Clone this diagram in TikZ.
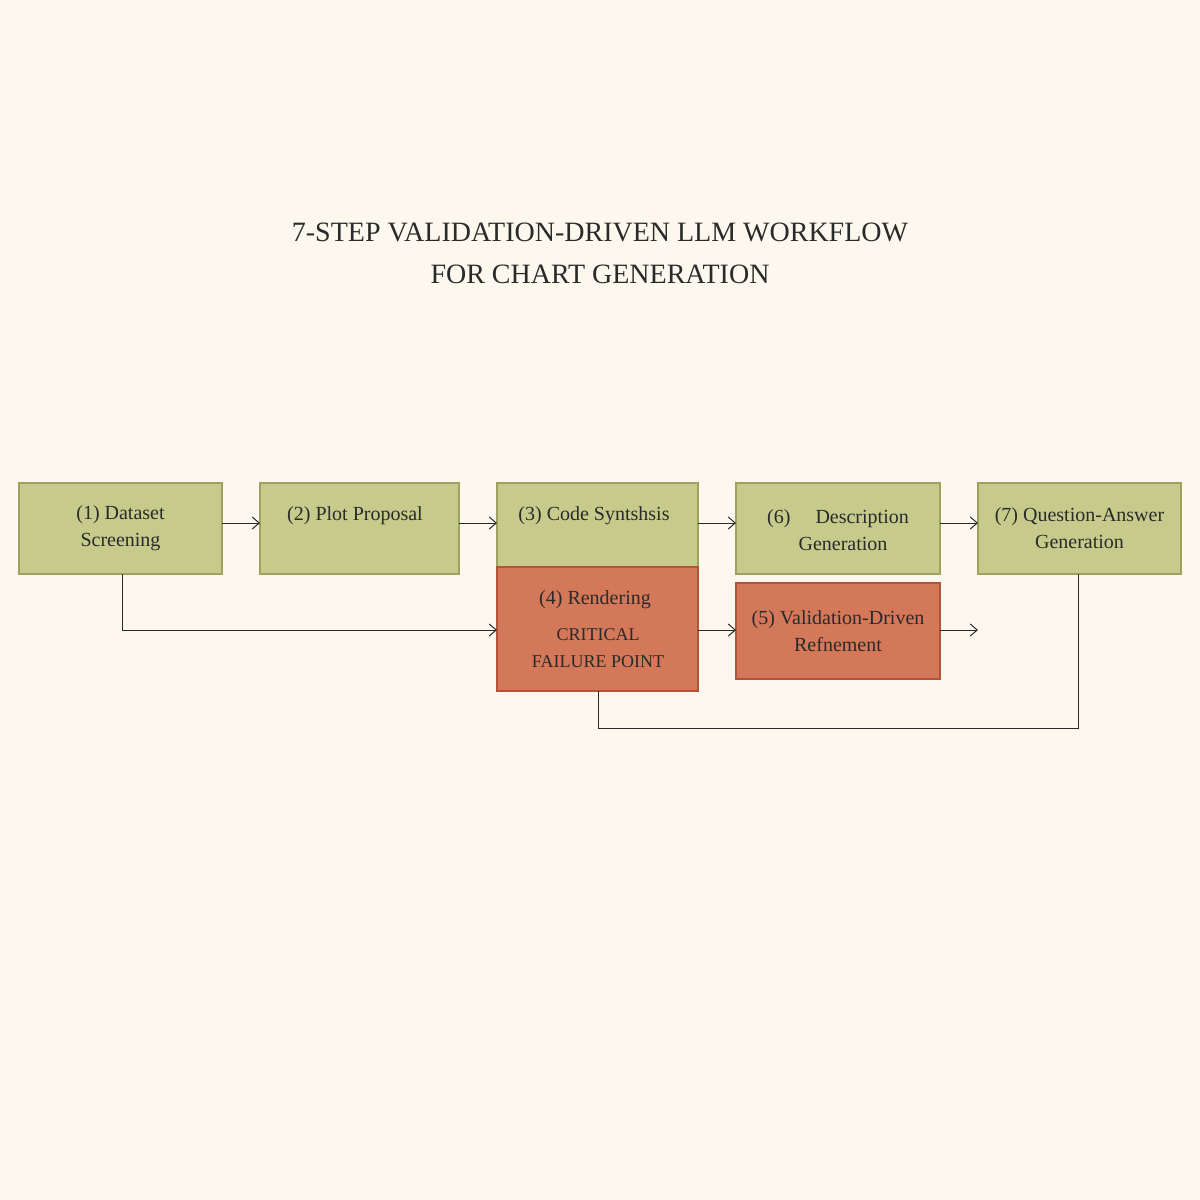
\documentclass[tikz,border=0pt]{standalone}
\usepackage{fontspec}
\setmainfont{Liberation Serif}
\usetikzlibrary{arrows.meta}
\definecolor{bg}{HTML}{FCF8EE}
\definecolor{gfill}{HTML}{C6CB8C}
\definecolor{gline}{HTML}{9BA35E}
\definecolor{rfill}{HTML}{D4785A}
\definecolor{rline}{HTML}{B5533A}
\definecolor{ink}{HTML}{2A2A2A}
\begin{document}
\begin{tikzpicture}[x=1pt,y=-1pt,
  gbox/.style={draw=gline,fill=gfill,line width=1.2pt},
  rbox/.style={draw=rline,fill=rfill,line width=1.2pt},
  lbl/.style={font=\fontsize{20}{27}\selectfont,text=ink,align=center},
  conn/.style={draw=ink,line width=1pt,-{Straight Barb[length=7pt,width=12pt]}},
  plain/.style={draw=ink,line width=1pt}]
\fill[bg] (0,0) rectangle (1200,1200);
\useasboundingbox (0,0) rectangle (1200,1200);
\node[lbl,font=\fontsize{28}{42}\selectfont] (title) at (600,253) {7-STEP VALIDATION-DRIVEN LLM WORKFLOW\\FOR CHART GENERATION};
\draw[gbox] (19,483) rectangle (222,574);
\draw[gbox] (260,483) rectangle (459,574);
\draw[gbox] (497,483) rectangle (698,567);
\draw[rbox] (497,567) rectangle (698,691);
\draw[gbox] (736,483) rectangle (940,574);
\draw[gbox] (978,483) rectangle (1181,574);
\draw[rbox] (736,583) rectangle (940,679);
\node[lbl,minimum width=203pt,minimum height=91pt] (s1) at (120.5,528.5) {(1) Dataset\\ Screening};
\node[lbl,minimum width=199pt,minimum height=91pt] (s2) at (359.5,528.5) {};
\node[lbl] at (355,516) {(2) Plot Proposal};
\node[lbl,minimum width=201pt,minimum height=84pt] (s3) at (597.5,525) {};
\node[lbl] at (594,516) {(3) Code Syntshsis};
\node[lbl,minimum width=201pt,minimum height=124pt] (s4) at (597.5,629) {};
\node[lbl] at (595,600) {(4) Rendering};
\node[lbl,font=\fontsize{18}{27}\selectfont] at (598,648) {CRITICAL\\FAILURE POINT};
\node[lbl,minimum width=204pt,minimum height=91pt] (s6) at (838,528.5) {};
\node[lbl] at (838,530) {(6)\quad\ Description\\\ \ Generation};
\node[lbl,minimum width=203pt,minimum height=91pt] (s7) at (1079.5,528.5) {(7) Question-Answer\\ Generation};
\node[lbl,minimum width=204pt,minimum height=96pt] (s5) at (838,631) {(5) Validation-Driven\\Refnement};
\coordinate (e5) at (978,630);
\draw[conn] (222,523) -- (260,523);
\draw[conn] (459,523) -- (497,523);
\draw[conn] (698,523) -- (736,523);
\draw[conn] (940,523) -- (978,523);
\draw[conn] (698,630) -- (736,630);
\draw[conn] (s5.east |- e5) -- (e5);
\draw[conn] (122,574) -- (122,630) -- (497,630);
\draw[plain] (598,691) -- (598,728) -- (1078,728) -- (1078,574);
\end{tikzpicture}
\end{document}
